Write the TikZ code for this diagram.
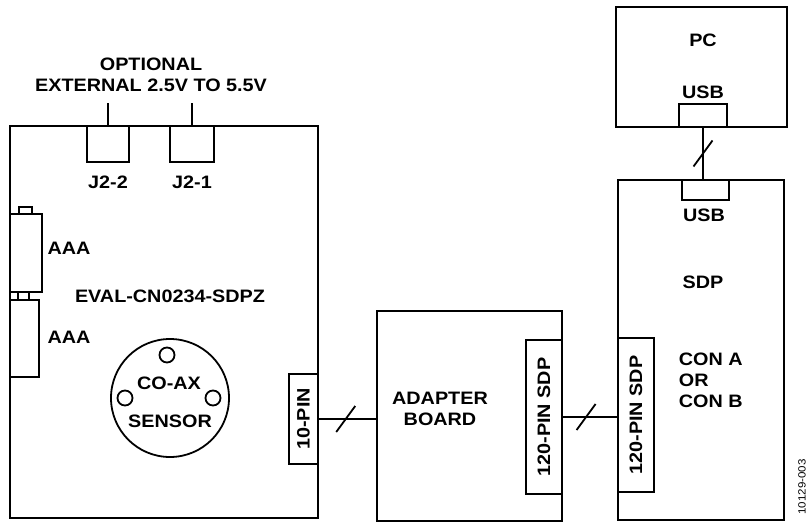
\documentclass[tikz,border=0pt]{standalone}
\usepackage{fontspec}
\setmainfont{Liberation Sans}
\newfontfamily\lblfont[FakeStretch=1.1]{Liberation Sans}
\usetikzlibrary{calc}
\newcommand\slashat[1]{\draw ([shift={(-9.5,13)}]#1) -- ([shift={(9.5,-13)}]#1);}
\begin{document}
\begin{tikzpicture}[x=1pt,y=-1pt,line width=1.8pt,
  box/.style={draw,rectangle,inner sep=0pt,outer sep=0pt,anchor=north west},
  txt/.style={font=\lblfont\bfseries\fontsize{18}{21}\selectfont,inner sep=0pt,align=center},
  foot/.style={font=\lblfont\fontsize{10.5}{12}\selectfont,inner sep=0pt}]
\useasboundingbox (0,0) rectangle (808,524);
% main board
\node[box,minimum width=308pt,minimum height=392pt] (main) at (10,126) {};
\node[box,minimum width=42pt,minimum height=36pt] (j22) at (87,126) {};
\node[box,minimum width=44pt,minimum height=36pt] (j21) at (170,126) {};
\coordinate (jtop) at (150,103);
\draw (j22.north) -- (j22.north |- jtop);
\draw (j21.north) -- (j21.north |- jtop);
\node[txt] (opt) at (151,75) {\fontsize{18}{24}\selectfont OPTIONAL\\EXTERNAL 2.5V TO 5.5V};
\node[txt] (lj22) at (108,182) {J2-2};
\node[txt] (lj21) at (192,182) {J2-1};
% batteries
\node[box,minimum width=13pt,minimum height=7pt] (nub1) at (19,207) {};
\node[box,minimum width=32pt,minimum height=78pt] (bat1) at (10,214) {};
\node[box,minimum width=11pt,minimum height=8pt] (nub2) at (18,292) {};
\node[box,minimum width=29pt,minimum height=77pt] (bat2) at (10,300) {};
\node[txt] (aaa1) at (69,248) {AAA};
\node[txt] (aaa2) at (69,337) {AAA};
\node[txt] (eval) at (170,296) {EVAL-CN0234-SDPZ};
% sensor
\node[draw,circle,minimum size=118pt,inner sep=0pt] (sensor) at (170,398) {};
\node[draw,circle,minimum size=15pt,inner sep=0pt] (h1) at (167,355) {};
\node[draw,circle,minimum size=15pt,inner sep=0pt] (h2) at (125,398) {};
\node[draw,circle,minimum size=15pt,inner sep=0pt] (h3) at (213,398) {};
\node[txt] (coax) at (169,383) {CO-AX};
\node[txt] (sens) at (170,421) {SENSOR};
% 10-pin
\node[box,minimum width=29pt,minimum height=90pt] (pin10) at (289,374) {};
\node[txt,rotate=90] (lpin10) at (pin10.center) {10-PIN};
% adapter
\node[box,minimum width=185pt,minimum height=210pt] (adapt) at (377,311) {};
\node[box,minimum width=36pt,minimum height=154pt] (apin) at (526,340) {};
\node[txt,rotate=90] (lapin) at (apin.center) {120-PIN SDP};
\node[txt] (ladapt) at (440,409) {\fontsize{18}{26}\selectfont ADAPTER\\BOARD};
% SDP
\node[box,minimum width=166pt,minimum height=340pt] (sdp) at (618,180) {};
\node[box,minimum width=47pt,minimum height=20pt] (sdpusb) at (682,180) {};
\node[box,minimum width=36pt,minimum height=154pt] (spin) at (618,338) {};
\node[txt,rotate=90] (lspin) at (spin.center) {120-PIN SDP};
\node[txt] (lsdpusb) at (704,215) {USB};
\node[txt] (lsdp) at (703,282) {SDP};
\node[txt,align=left,anchor=west] (lcon) at (678,380) {\fontsize{18}{20}\selectfont CON A\\OR\\CON B};
% PC
\node[box,minimum width=171pt,minimum height=120pt] (pc) at (616,7) {};
\node[box,minimum width=48pt,minimum height=23pt] (pcusb) at (679,104) {};
\node[txt] (lpc) at (703,40) {PC};
\node[txt] (lpcusb) at (703,92) {USB};
% connectors
\draw (pin10.east) -- (pin10.east -| adapt.west) coordinate[pos=0.47] (s1);
\slashat{s1}
\draw (apin.east) -- (apin.east -| sdp.west) coordinate[pos=0.43] (s2);
\slashat{s2}
\draw (pcusb.south) -- (pcusb.south |- sdpusb.north) coordinate[pos=0.5] (s3);
\slashat{s3}
\node[foot,rotate=90] (fig) at (802,487) {10129-003};
\end{tikzpicture}
\end{document}
